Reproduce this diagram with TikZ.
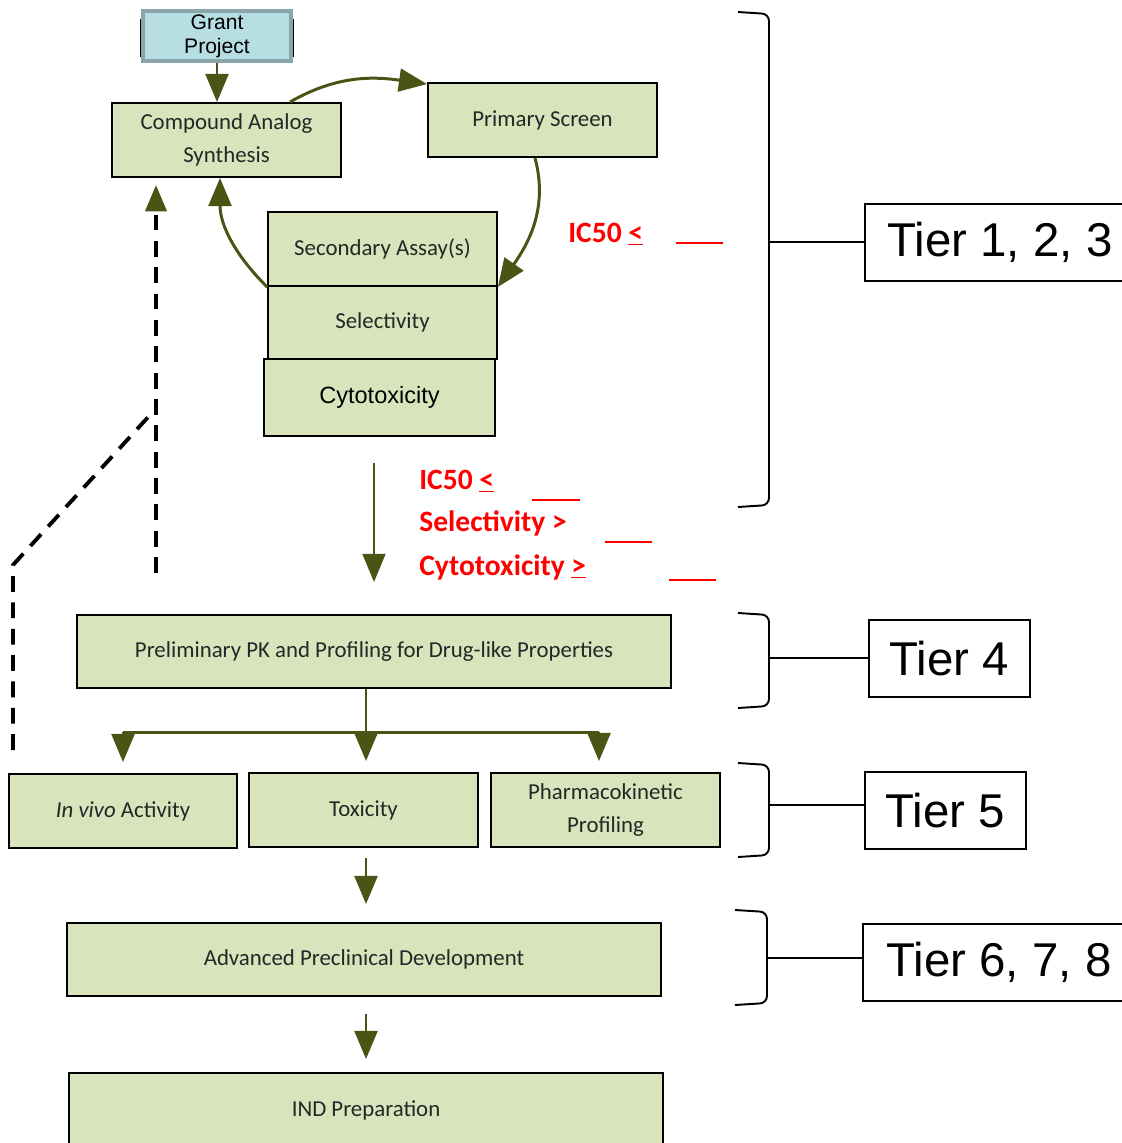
\documentclass[tikz,border=0pt]{standalone}
\usepackage{fontspec}
\setmainfont{Carlito}
\newfontfamily\arialfont{Liberation Sans}
\usetikzlibrary{arrows.meta}
\definecolor{boxgreen}{RGB}{216,228,188}
\definecolor{arrowolive}{RGB}{74,84,20}
\definecolor{grantblue}{RGB}{183,222,227}
\definecolor{grantframe}{RGB}{138,166,171}
\definecolor{boxtext}{RGB}{38,38,38}
\tikzset{
  stage/.style={draw=black, line width=1.1pt, fill=boxgreen, text=boxtext, align=center, inner sep=0pt, font=\fontsize{13}{18.5}\selectfont},
  tier/.style={draw=black, line width=0.9pt, fill=white, inner sep=0pt, minimum height=1.54cm, font=\arialfont\fontsize{27}{31}\selectfont},
  flow/.style={draw=arrowolive, line width=1.7pt, -{Triangle[length=16pt,width=13pt,fill=arrowolive]}},
  crit/.style={anchor=base west, text=red, inner sep=0pt, font=\bfseries\fontsize{16.8}{20}\selectfont},
  brace/.style={line width=1.1pt, rounded corners=4pt},
  blank/.style={red, line width=1.6pt},
  loopback/.style={line width=2.2pt, dash pattern=on 9pt off 6pt}
}
\begin{document}
\begin{tikzpicture}[x=0.02cm, y=-0.02cm]
  \useasboundingbox (0,0) rectangle (1122,1143);
  % Kaesten
  \node[fill=black, inner sep=0pt, minimum width=3.08cm, minimum height=0.76cm] (grantback) at (217,38) {};
  \node[draw=grantframe, line width=2.4pt, fill=grantblue, inner sep=0pt, align=center,
        minimum width=2.96cm, minimum height=1cm, font=\arialfont\fontsize{12}{13.5}\selectfont] (grant) at (217,36) {\raisebox{-2pt}{Grant}\\\raisebox{-2pt}{Project}};
  \node[stage, minimum width=4.58cm, minimum height=1.48cm] (compound) at (226.5,140) {Compound Analog\\Synthesis};
  \node[stage, minimum width=4.58cm, minimum height=1.48cm] (primary) at (542.5,120) {Primary Screen};
  \node[stage, minimum width=4.58cm, minimum height=1.48cm] (secondary) at (382.5,249) {Secondary Assay(s)};
  \node[stage, minimum width=4.58cm, minimum height=1.46cm] (selectivity) at (382.5,322.5) {Selectivity};
  \node[stage, minimum width=4.62cm, minimum height=1.54cm, text=black, font=\arialfont\fontsize{13.4}{16}\selectfont] (cyto) at (379.5,397.5) {Cytotoxicity};
  \node[stage, minimum width=11.88cm, minimum height=1.46cm] (prelim) at (374,651.5) {Preliminary PK and Profiling for Drug-like Properties};
  \node[stage, minimum width=4.56cm, minimum height=1.48cm] (invivo) at (123,811) {\textit{In vivo} Activity};
  \node[stage, minimum width=4.58cm, minimum height=1.48cm] (toxicity) at (363.5,810) {Toxicity};
  \node[stage, minimum width=4.58cm, minimum height=1.48cm] (pk) at (605.5,810) {Pharmacokinetic\\Profiling};
  \node[stage, minimum width=11.88cm, minimum height=1.46cm] (advanced) at (364,959.5) {Advanced Preclinical Development};
  \node[stage, minimum width=11.88cm, minimum height=1.48cm] (ind) at (366,1110) {IND Preparation};
  % Stufen
  \node[tier, minimum width=5.4cm] (tier123) at (1000,242.5) {Tier 1, 2, 3};
  \node[tier, minimum width=3.22cm] (tier4) at (949.5,658.5) {Tier 4};
  \node[tier, minimum width=3.22cm] (tier5) at (945.5,810.5) {Tier 5};
  \node[tier, minimum width=5.44cm] (tier678) at (999,962.5) {Tier 6, 7, 8};
  % Kriterien
  \node[crit] (ic50top) at (568,242) {IC50 \underline{<}};
  \node[crit] (crit1) at (419,489) {IC50 \underline{<}};
  \node[crit] (crit2) at (419,531) {Selectivity >};
  \node[crit] (crit3) at (419,575) {Cytotoxicity \underline{>}};
  \draw[blank] (676,243) -- (723,243);
  \draw[blank] (532,500) -- (580,500);
  \draw[blank] (605,542) -- (652,542);
  \draw[blank] (669,580) -- (716,580);
  % Pfeile
  \coordinate (cytoout) at (374,463);
  \coordinate (prelimin) at (374,582);
  \coordinate (split) at (366,732);
  \coordinate (splitR) at (599,732);
  \draw[flow] (grant.south) -- (grant.south |- compound.north);
  \draw[flow] ([xshift=1.27cm]compound.north) to[out=30, in=172] ([yshift=-0.04cm]primary.north west);
  \draw[flow] ([xshift=-0.15cm]primary.south) to[out=-75, in=55] (secondary.south east);
  \draw[flow] (secondary.south west) to[out=135, in=-90] ([xshift=-0.13cm]compound.south);
  \draw[flow, line width=1.2pt] (cytoout) -- (prelimin);
  \draw[arrowolive, line width=1.7pt] (split |- prelim.south) -- (split);
  \draw[arrowolive, line width=1.7pt] (invivo |- split) -- (splitR);
  \draw[flow, shorten >=0.22cm] (invivo |- split) -- (invivo.north);
  \draw[flow, shorten >=0.22cm] (split) -- (split |- toxicity.north);
  \draw[flow, shorten >=0.22cm] (splitR) -- (splitR |- pk.north);
  \draw[flow, shorten <=0.2cm, shorten >=0.36cm] (split |- toxicity.south) -- (split |- advanced.north);
  \draw[flow, shorten <=0.34cm, shorten >=0.26cm] (split |- advanced.south) -- (split |- ind.north);
  % Rueckkopplung
  \coordinate (backA) at (156,573);
  \coordinate (backB) at (13,750);
  \coordinate (backC) at (13,565);
  \coordinate (backD) at (150,415);
  \draw[loopback, shorten >=4pt, -{Triangle[length=15pt,width=12pt,fill=arrowolive,color=arrowolive]}] (backA) -- (backA |- compound.south);
  \draw[loopback] (backB) -- (backC) -- (backD);
  % Klammern
  \draw[brace] (738,12) -- (769,14) -- (769,505) -- (738,507);
  \draw[brace] (738,613) -- (769,615) -- (769,706) -- (738,708);
  \draw[brace] (738,763) -- (769,765) -- (769,855) -- (738,857);
  \draw[brace] (735,910) -- (767,912) -- (767,1003) -- (735,1005);
  \coordinate (brace1) at (769,242);
  \coordinate (brace4) at (769,658);
  \coordinate (brace5) at (769,805);
  \coordinate (brace6) at (767,958);
  \draw[line width=0.9pt] (brace1) -- (brace1 -| tier123.west);
  \draw[line width=0.9pt] (brace4) -- (brace4 -| tier4.west);
  \draw[line width=0.9pt] (brace5) -- (brace5 -| tier5.west);
  \draw[line width=0.9pt] (brace6) -- (brace6 -| tier678.west);
\end{tikzpicture}
\end{document}
